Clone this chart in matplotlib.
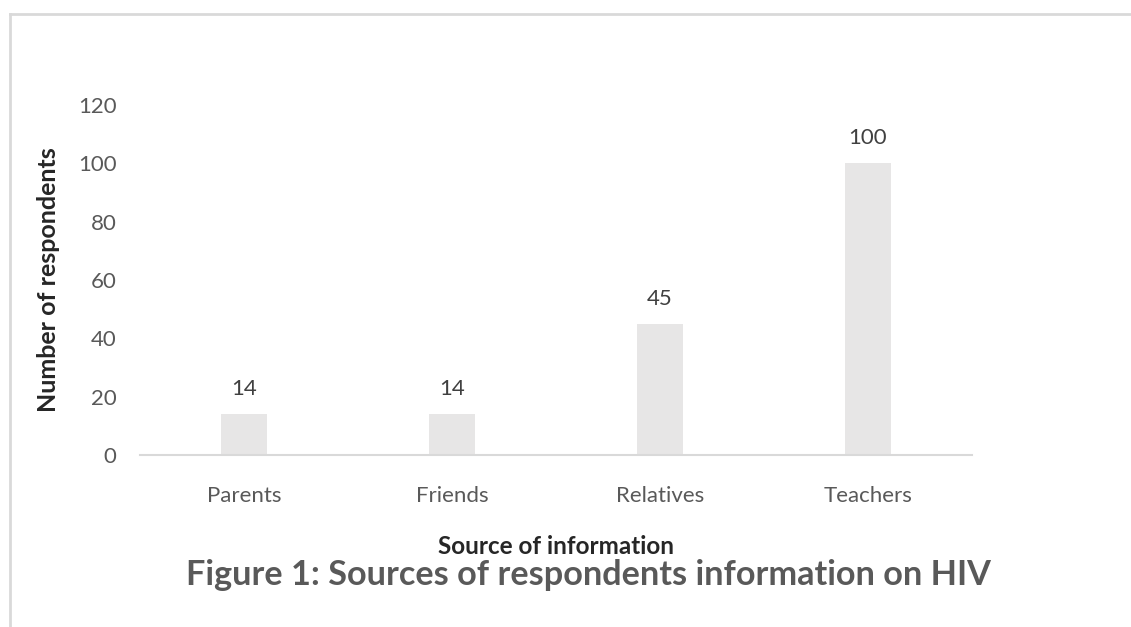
import matplotlib.pyplot as plt
from matplotlib.lines import Line2D

# data
sources = ['Parents', 'Friends', 'Relatives', 'Teachers']
respondents = [14, 14, 45, 100]
y_ticks = [0, 20, 40, 60, 80, 100, 120]

plt.rcParams['font.family'] = ['Lato', 'DejaVu Sans']

W, H = 1131, 627
fig = plt.figure(figsize=(W / 100, H / 100), dpi=100)
ax = fig.add_axes([140 / W, 1 - 455 / H, (972 - 140) / W, (455 - 105) / H])

x = range(len(sources))
bars = ax.bar(x, respondents, width=0.22, color='#e7e6e6', zorder=2)

for b, v in zip(bars, respondents):
    ax.annotate(str(v), (b.get_x() + b.get_width() / 2, v), xytext=(0, 18),
                textcoords='offset points', ha='center', va='center',
                fontsize=16, color='#404040')

ax.set_xlim(-0.5, len(sources) - 0.5)
ax.set_ylim(0, 120)
ax.set_xticks(list(x))
ax.set_xticklabels(sources)
ax.set_yticks(y_ticks)
ax.tick_params(axis='both', length=0, labelsize=16, labelcolor='#595959')
ax.tick_params(axis='y', pad=17)
ax.tick_params(axis='x', pad=22)

for s in ['top', 'right', 'left']:
    ax.spines[s].set_visible(False)
ax.spines['bottom'].set_color('#d9d9d9')
ax.spines['bottom'].set_linewidth(1.5)

ax.set_ylabel('Number of respondents', fontsize=18, fontweight='bold',
              color='#262626', labelpad=13)

fig.text(556 / W, 1 - 546 / H, 'Source of information', ha='center', va='center',
         fontsize=17.5, fontweight='bold', color='#262626')
fig.text(588 / W, 1 - 575 / H, 'Figure 1: Sources of respondents information on HIV',
         ha='center', va='center', fontsize=24.7, fontweight='bold', color='#595959')

# frame lines at top and left
fig.add_artist(Line2D([10 / W, 1], [1 - 14 / H, 1 - 14 / H], color='#d9d9d9', lw=2))
fig.add_artist(Line2D([10 / W, 10 / W], [0, 1 - 14 / H], color='#d9d9d9', lw=2))

fig.savefig('out.png', dpi=100)
